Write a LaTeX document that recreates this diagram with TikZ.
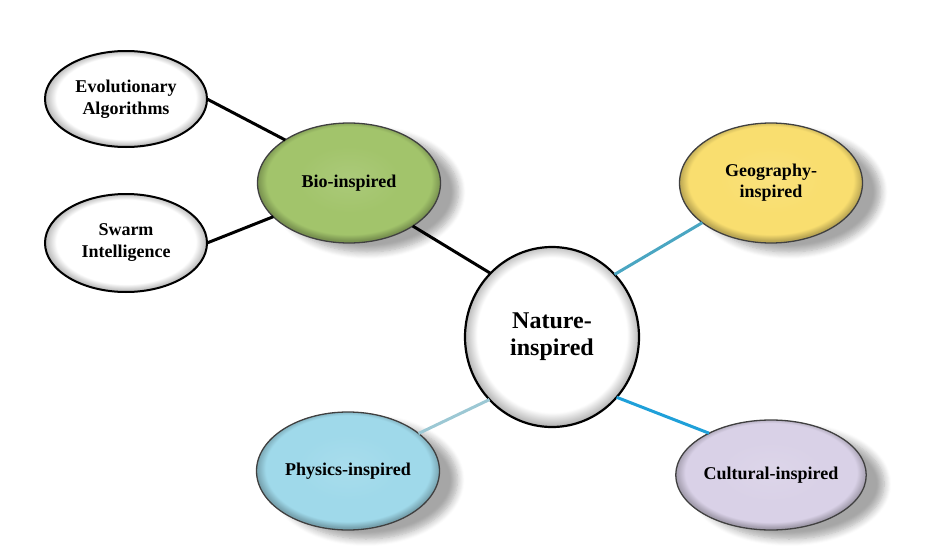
\documentclass[tikz,border=0pt]{standalone}
\usepackage{fontspec}
\setmainfont{Liberation Serif}
\usetikzlibrary{shapes.geometric,shadows.blur}
\definecolor{biogreen}{HTML}{A2C46B}
\definecolor{geoyellow}{HTML}{F9DE6F}
\definecolor{physblue}{HTML}{9FD9EA}
\definecolor{cultlilac}{HTML}{D9D1E7}
\definecolor{geoline}{HTML}{4AA6C2}
\definecolor{physline}{HTML}{9CC8D4}
\definecolor{cultline}{HTML}{1FA0D9}
\pgfdeclareradialshading{whiterim}{\pgfpoint{0bp}{1bp}}{color(0bp)=(white); color(21.5bp)=(white); color(25bp)=(black!28); color(50bp)=(black!28)}
\pgfdeclareradialshading{bioshade}{\pgfpoint{0bp}{2bp}}{color(0bp)=(biogreen!90!white); color(14bp)=(biogreen); color(22.5bp)=(biogreen); color(25bp)=(biogreen!75!black); color(50bp)=(biogreen!75!black)}
\pgfdeclareradialshading{geoshade}{\pgfpoint{0bp}{2bp}}{color(0bp)=(geoyellow!90!white); color(14bp)=(geoyellow); color(22.5bp)=(geoyellow); color(25bp)=(geoyellow!75!black); color(50bp)=(geoyellow!75!black)}
\pgfdeclareradialshading{physshade}{\pgfpoint{0bp}{2bp}}{color(0bp)=(physblue!90!white); color(14bp)=(physblue); color(22.5bp)=(physblue); color(25bp)=(physblue!75!black); color(50bp)=(physblue!75!black)}
\pgfdeclareradialshading{cultshade}{\pgfpoint{0bp}{2bp}}{color(0bp)=(cultlilac!90!white); color(14bp)=(cultlilac); color(22.5bp)=(cultlilac); color(25bp)=(cultlilac!75!black); color(50bp)=(cultlilac!75!black)}
\tikzset{
  leaf/.style={ellipse, draw=black, line width=2pt, shading=whiterim, outer sep=0pt,
    align=center, font=\fontsize{18}{22}\selectfont\bfseries,
    minimum width=162pt, minimum height=96pt, inner sep=0pt},
  branch/.style={ellipse, draw=black!75, line width=1.3pt, outer sep=0pt,
    align=center, font=\fontsize{18}{21}\selectfont\bfseries,
    minimum width=183pt, minimum height=120pt, inner sep=0pt,
    blur shadow={shadow xshift=18pt, shadow yshift=-9pt, shadow blur steps=8, shadow blur radius=7pt, shadow opacity=35}},
  hub/.style={ellipse, draw=black, line width=2.2pt, shading=whiterim, outer sep=0pt,
    align=center, font=\fontsize{24}{27}\selectfont\bfseries,
    minimum width=174pt, minimum height=180pt, inner sep=0pt},
  blackline/.style={draw=black, line width=3pt},
  colline/.style={line width=3pt}
}
\begin{document}
\begin{tikzpicture}[x=1pt,y=-1pt]
\useasboundingbox (0,0) rectangle (938,549);
\node[leaf] (evo) at (126,99) {Evolutionary\\Algorithms};
\node[leaf, minimum height=98pt] (swarm) at (126,243) {Swarm\\Intelligence};
\node[branch, shading=bioshade] (bio) at (349,183) {Bio-inspired};
\node[branch, shading=geoshade] (geo) at (771,183) {Geography-\\inspired};
\node[branch, shading=physshade, minimum height=118pt] (phys) at (348,471) {Physics-inspired};
\node[branch, shading=cultshade, minimum height=110pt] (cult) at (771,475) {Cultural-inspired};
\node[hub] (nat) at (552,337) {Nature-\\inspired};
\draw[blackline] (evo.east) -- (bio.146);
\draw[blackline] (swarm.east) -- (bio.204);
\draw[blackline] (bio.-34) -- (nat.134);
\draw[colline, draw=geoline] (nat.45) -- (geo.210);
\draw[colline, draw=physline] (nat.225) -- (phys.28);
\draw[colline, draw=cultline] (nat.-43) -- (cult.146);
\end{tikzpicture}
\end{document}
